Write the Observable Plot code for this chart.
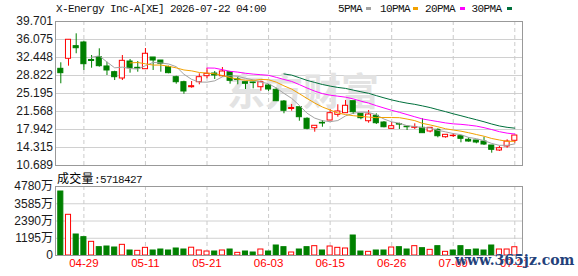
<!DOCTYPE html>
<html><head><meta charset="utf-8">
<script src="https://cdn.jsdelivr.net/npm/d3@7"></script>
<script src="https://cdn.jsdelivr.net/npm/@observablehq/plot@0.6"></script>
<style>
body{margin:0;background:#fff;}
#wrap{position:relative;width:578px;height:276px;overflow:hidden;font-family:"Liberation Sans",Arial,sans-serif;}
#wrap svg{position:absolute;left:0;top:0;overflow:visible;background:transparent;}
.t{position:absolute;white-space:pre;line-height:11px;}
.mono{font-family:"Liberation Mono",monospace;font-size:11px;letter-spacing:-0.6px;color:#111;}
.sq{position:absolute;width:5px;height:3px;}
</style></head><body><div id="wrap"></div>
<script>
// ---- data ----
const dates = ["04-24","04-27","04-28","04-29","04-30","05-01","05-04","05-05","05-06","05-07",
  "05-08","05-11","05-12","05-13","05-14","05-15","05-18","05-19","05-20","05-21",
  "05-22","05-26","05-27","05-28","05-29","06-01","06-02","06-03","06-04","06-05",
  "06-08","06-09","06-10","06-11","06-12","06-15","06-16","06-17","06-18","06-22",
  "06-23","06-24","06-25","06-26","06-29","06-30","07-01","07-02","07-06","07-07",
  "07-08","07-09","07-10","07-13","07-14","07-15","07-16","07-17","07-20","07-21"];
const open  = [30.17,32.19,34.73,35.47,31.95,32.51,30.64,29.49,28.22,31.64,
  30.37,30.09,32.45,31.84,30.50,28.48,27.47,26.46,27.47,28.68,
  29.22,28.68,29.49,28.02,27.47,27.41,26.46,26.81,25.94,23.58,
  22.07,22.43,20.10,18.20,19.29,19.75,20.90,21.23,23.64,21.11,
  19.61,20.70,19.35,18.08,19.05,18.52,18.28,18.28,17.54,17.88,
  16.39,16.61,16.59,15.87,15.73,15.52,14.72,13.71,14.52,15.67];
const high  = [31.38,36.02,37.22,35.73,32.85,34.20,31.50,29.69,32.85,32.05,
  31.64,34.26,32.45,31.84,30.70,28.68,27.67,27.61,29.16,30.29,
  29.63,30.43,29.63,28.48,27.47,27.47,27.67,27.01,26.26,23.78,
  22.98,22.43,20.30,18.69,19.75,21.97,22.92,23.78,23.64,21.11,
  21.77,21.11,19.55,19.35,19.21,18.61,19.09,20.10,18.28,18.08,
  16.87,17.08,16.59,16.27,15.73,16.39,14.72,14.58,15.87,16.73];
const low   = [27.15,30.70,33.20,29.83,30.29,30.50,28.82,27.81,27.81,29.29,
  29.49,30.09,29.83,29.49,29.17,27.07,25.05,26.26,26.95,28.16,
  28.02,28.48,27.07,26.95,26.00,26.14,25.66,25.60,23.58,21.11,
  21.63,19.61,17.88,17.40,18.40,19.75,20.42,21.23,20.96,19.90,
  19.21,18.95,18.28,18.08,17.95,17.74,17.94,17.20,17.28,16.27,
  16.19,16.33,15.26,15.38,15.06,14.72,13.17,13.51,14.17,15.18];
const close = [29.29,36.02,34.32,31.10,31.74,30.70,29.83,28.48,31.78,30.29,
  30.23,33.20,31.84,31.18,29.29,27.47,25.60,26.67,28.48,29.16,
  28.82,29.63,27.75,27.90,27.15,27.29,27.47,26.00,23.64,21.71,
  22.27,20.42,18.08,18.69,19.15,21.23,21.57,22.72,21.43,20.22,
  20.96,19.21,18.40,18.61,18.93,18.40,18.40,17.20,18.28,16.59,
  16.87,16.69,16.07,15.52,15.32,14.92,13.85,14.17,15.52,16.73];
// volume in 万 shares, and the colour direction of each volume bar (R = up, G = down)
const volume = [4433,2819,1455,1270,947,577,623,554,739,346,
  323,531,346,415,346,485,415,540,346,277,
  277,346,415,185,277,208,415,277,693,577,
  208,415,577,646,346,623,531,485,1385,277,
  254,346,346,554,577,415,646,508,392,646,
  254,346,646,369,415,346,693,415,415,572];
const volDirList = ["G","R","G","G","R","G","G","G","R","G",
  "R","R","G","G","G","G","G","R","R","R",
  "G","R","G","R","G","G","R","G","G","G",
  "R","G","G","R","G","R","R","R","G","G",
  "R","G","G","R","G","G","R","G","R","G",
  "R","G","G","G","G","G","G","R","R","R"];
const priceTicks = [10.689,14.315,17.942,21.568,25.195,28.822,32.448,36.075,39.701];
const volTicks = [0,1195,2390,3585,4780];
const dateTicks = ["04-29","05-11","05-21","06-03","06-15","06-26","07-09","07-21"];
const maSeries = [{k:5,name:"5PMA",color:"#a3a3a3"},{k:10,name:"10PMA",color:"#f2a100"},
  {k:20,name:"20PMA",color:"#ff00ff"},{k:30,name:"30PMA",color:"#00703c"}];
const title = "X-Energy Inc-A[XE] 2026-07-22 04:00";
const volLabel = "成交量", volNow = "5718427";

// ---- build ----
const RED = "#ff0000", GREEN = "#008000";
const candles = dates.map((d,i)=>({i, date:d, open:open[i], high:high[i], low:low[i], close:close[i],
  up: close[i] >= open[i], vol: volume[i], vup: volDirList[i]==="R"}));
const tickIdx = dateTicks.map(d => dates.indexOf(d));
const xDomain = [-0.69, 60.0];
const hw = 0.33;
const maReduce = k => v => (v.length < k || Array.from(v).some(x => x == null || isNaN(x))) ? NaN : d3.mean(v);

const wrap = document.getElementById("wrap");

const main = Plot.plot({
  width:578, height:276, marginLeft:55, marginRight:56, marginTop:21, marginBottom:111,
  style:{background:"transparent", fontFamily:"'Liberation Sans',Arial,sans-serif", fontSize:"12px", color:"#1a1a1a", overflow:"visible"},
  color:{type:"identity"},
  x:{type:"linear", domain:xDomain, axis:null},
  y:{domain:[priceTicks[0], priceTicks[priceTicks.length-1]], ticks:priceTicks, tickFormat:d=>d.toFixed(3), tickSize:0, tickPadding:2.5, label:null},
  marks:[
    Plot.ruleY(priceTicks, {stroke:"#d0d0d0"}),
    Plot.ruleX(tickIdx, {stroke:"#cbcbcb", strokeDasharray:"4,3"}),
    Plot.text(["东方财富"], {frameAnchor:"middle", dx:14, dy:-1, fontSize:38, fontWeight:"bold", fill:"#e3e3e3", fontFamily:"'Noto Sans CJK SC',sans-serif"}),
    Plot.ruleX(candles, {x:"i", y1:"low", y2:"high", stroke:d=>d.up?RED:GREEN}),
    Plot.rect(candles, {x1:d=>d.i-hw, x2:d=>d.i+hw, y1:"open", y2:"close", fill:d=>d.up?"white":GREEN, stroke:d=>d.up?RED:GREEN}),
    ...maSeries.map(m => Plot.lineY(candles, Plot.windowY({k:m.k, anchor:"end", reduce:maReduce(m.k)}, {x:"i", y:"close", stroke:m.color, strokeWidth:1}))),
    Plot.frame({stroke:"#999"})
  ]
});
wrap.appendChild(main);

const vol = Plot.plot({
  width:578, height:276, marginLeft:55, marginRight:56, marginTop:186, marginBottom:21,
  style:{background:"transparent", fontFamily:"'Liberation Sans','Noto Sans CJK SC',Arial,sans-serif", fontSize:"12px", color:"#1a1a1a", overflow:"visible"},
  color:{type:"identity"},
  x:{type:"linear", domain:xDomain, axis:null},
  y:{domain:[0, volTicks[volTicks.length-1]], ticks:volTicks, tickFormat:d=>d===0?"0":d+"万", tickSize:0, tickPadding:2.5, label:null},
  marks:[
    Plot.ruleY(volTicks, {stroke:"#d0d0d0"}),
    Plot.ruleX(tickIdx, {stroke:"#cbcbcb", strokeDasharray:"4,3"}),
    Plot.rect(candles, {x1:d=>d.i-hw, x2:d=>d.i+hw, y1:0, y2:"vol", fill:d=>d.vup?"white":GREEN, stroke:d=>d.vup?RED:GREEN}),
    Plot.frame({stroke:"#999"}),
    Plot.text(tickIdx, {x:d=>d, text:d=>dates[d], frameAnchor:"bottom", dy:11, fill:RED, fontSize:11.5})
  ]
});
wrap.appendChild(vol);

// ---- HTML text: title, legend, volume label, watermark ----
function addText(html, left, top, cls, extra) {
  const el = document.createElement("div");
  el.className = "t " + (cls||"");
  el.style.left = left + "px"; el.style.top = top + "px";
  if (extra) Object.assign(el.style, extra);
  el.innerHTML = html; wrap.appendChild(el); return el;
}
addText(title, 56, 4, "mono");
const legX = [338, 380, 425, 471.5], sqX = [366, 413, 460, 506.5];
maSeries.forEach((m, j) => {
  addText(m.name, legX[j], 4, "mono");
  const s = document.createElement("div"); s.className = "sq";
  s.style.left = sqX[j] + "px"; s.style.top = "7px"; s.style.background = m.color; wrap.appendChild(s);
});
addText('<span style="font-family:\'Noto Sans CJK SC\';font-size:12px;letter-spacing:0.3px">' + volLabel + '</span><span class="mono">:' + volNow + '</span>', 57, 172, "", {lineHeight:"12px"});
addText("www.365jz.com", 455, 252, "", {fontFamily:"'DejaVu Serif',serif", fontWeight:"bold", fontSize:"14px", color:"#23417a", lineHeight:"16px", textShadow:"0 0 1px #fff"});
</script></body></html>
